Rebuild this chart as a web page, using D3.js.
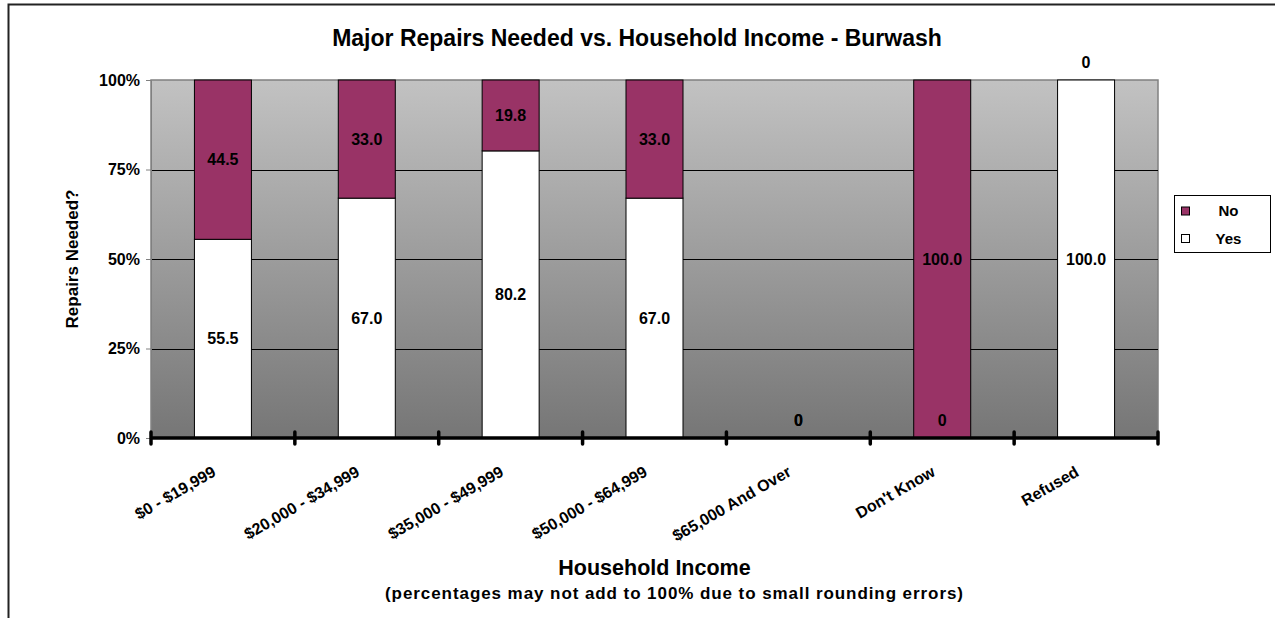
<!DOCTYPE html>
<html>
<head>
<meta charset="utf-8">
<script src="https://cdn.jsdelivr.net/npm/d3@7"></script>
<style>
  body { margin: 0; background: #fff; }
  text { font-family: "Liberation Sans", Arial, sans-serif; font-weight: bold; }
</style>
</head>
<body>
<div id="chart-area"></div>
<script>
// data
var categories = ["$0 - $19,999", "$20,000 - $34,999", "$35,000 - $49,999", "$50,000 - $64,999",
                  "$65,000 And Over", "Don't Know", "Refused"];
var yesValues = [55.5, 67.0, 80.2, 67.0, 0, 0, 100.0];
var noValues  = [44.5, 33.0, 19.8, 33.0, 0, 100.0, 0];
var yTicks = [0, 25, 50, 75, 100];

var W = 1275, H = 618;
var margin = { left:151, right:117, top:80, bottom:180 };
var width = W - margin.left - margin.right,
    height = H - margin.top - margin.bottom;

var purple = "#993366";

var svg = d3.select("#chart-area").append("svg")
    .attr("width", W).attr("height", H);

// outer chart frame
svg.append("rect")
    .attr("x", 8.5).attr("y", 4.5)
    .attr("width", W + 20).attr("height", H + 20)
    .attr("fill", "none").attr("stroke", "#222").attr("stroke-width", 2);

var defs = svg.append("defs");
var grad = defs.append("linearGradient").attr("id", "bg")
    .attr("x1", 0).attr("y1", 0).attr("x2", 0).attr("y2", 1);
grad.append("stop").attr("offset", "0%").attr("stop-color", "#c2c2c2");
grad.append("stop").attr("offset", "100%").attr("stop-color", "#767676");

var g = svg.append("g")
    .attr("transform", "translate(" + margin.left + "," + margin.top + ")");

var x = d3.scaleBand().domain(categories).range([0, width]).padding(0);
var y = d3.scaleLinear().domain([0, 100]).range([height, 0]);
var barW = 57;

// plot background
g.append("rect")
    .attr("width", width).attr("height", height)
    .attr("fill", "url(#bg)")
    .attr("stroke", "#808080").attr("stroke-width", 1.5);

// gridlines
g.selectAll(".grid").data(yTicks.filter(function(d){ return d > 0 && d < 100; }))
  .enter().append("line")
    .attr("x1", 0).attr("x2", width)
    .attr("y1", function(d){ return Math.round(y(d)) + 0.5; })
    .attr("y2", function(d){ return Math.round(y(d)) + 0.5; })
    .attr("stroke", "#000").attr("stroke-width", 1);

// stacked bars
var series = [
  { key: "Yes", values: yesValues, fill: "#ffffff" },
  { key: "No",  values: noValues,  fill: purple }
];

var barLayer = g.append("g"), labelLayer = g.append("g");

categories.forEach(function(c, i){
  var base = 0;
  series.forEach(function(s){
    var v = s.values[i];
    var y0 = base, y1 = base + v;
    var cx = x(c) + x.bandwidth() / 2;
    if (v > 0) {
      barLayer.append("rect")
        .attr("x", cx - barW / 2)
        .attr("y", y(y1))
        .attr("width", barW)
        .attr("height", y(y0) - y(y1))
        .attr("fill", s.fill)
        .attr("stroke", "#000").attr("stroke-width", 1);
    }
    var ly = v > 0 ? (y(y0) + y(y1)) / 2 : y(y0) - 18;
    labelLayer.append("text")
      .attr("x", cx).attr("y", ly)
      .attr("dy", "0.35em")
      .attr("text-anchor", "middle")
      .attr("font-size", "16px")
      .text(v === 0 ? "0" : v.toFixed(1));
    base = y1;
  });
});

// y axis
var yAxis = g.append("g")
    .call(d3.axisLeft(y).tickValues(yTicks).tickFormat(function(d){ return d + "%"; }).tickSize(5).tickPadding(6));
yAxis.select(".domain").attr("stroke", "#808080");
yAxis.selectAll(".tick line").attr("stroke", "#808080");
yAxis.selectAll("text").attr("font-size", "16px").attr("font-weight", "bold")
    .attr("font-family", "Liberation Sans, Arial, sans-serif").attr("fill", "#000");

// x axis: thick baseline with boundary ticks
g.append("line")
    .attr("x1", 0).attr("x2", width)
    .attr("y1", height).attr("y2", height)
    .attr("stroke", "#000").attr("stroke-width", 3.5);
var bounds = categories.map(function(c){ return x(c); }).concat([width]);
g.selectAll(".xtick").data(bounds).enter().append("line")
    .attr("x1", function(d){ return d; }).attr("x2", function(d){ return d; })
    .attr("y1", height - 6).attr("y2", height + 6)
    .attr("stroke", "#000").attr("stroke-width", 3.5)
    .attr("stroke-linecap", "round");

g.selectAll(".xlabel").data(categories).enter().append("text")
    .attr("transform", function(d){
      return "translate(" + (x(d) + x.bandwidth() / 2 - 6) + "," + (height + 37) + ") rotate(-30)";
    })
    .attr("text-anchor", "end")
    .attr("font-size", "16px")
    .text(function(d){ return d; });

// titles
svg.append("text")
    .attr("x", 637).attr("y", 46)
    .attr("text-anchor", "middle").attr("font-size", "23px")
    .text("Major Repairs Needed vs. Household Income - Burwash");

svg.append("text")
    .attr("transform", "translate(78," + (margin.top + height / 2) + ") rotate(-90)")
    .attr("text-anchor", "middle").attr("font-size", "17px")
    .text("Repairs Needed?");

svg.append("text")
    .attr("x", margin.left + width / 2).attr("y", 575)
    .attr("text-anchor", "middle").attr("font-size", "21.5px")
    .text("Household Income");

svg.append("text")
    .attr("x", 385).attr("y", 599)
    .attr("textLength", 578).attr("lengthAdjust", "spacing")
    .attr("font-size", "17px")
    .text("(percentages may not add to 100% due to small rounding errors)");

// legend
var legend = svg.append("g").attr("transform", "translate(1174.5,195.5)");
legend.append("rect")
    .attr("width", 96).attr("height", 57)
    .attr("fill", "#fff").attr("stroke", "#000").attr("stroke-width", 1);
var legendItems = [series[1], series[0]];
legendItems.forEach(function(s, i){
  legend.append("rect")
    .attr("x", 7).attr("y", 11.5 + i * 27.5)
    .attr("width", 8).attr("height", 8)
    .attr("fill", s.fill).attr("stroke", "#000").attr("stroke-width", 1);
  legend.append("text")
    .attr("x", 54).attr("y", 20 + i * 28)
    .attr("text-anchor", "middle").attr("font-size", "15px")
    .text(s.key);
});
</script>
</body>
</html>
